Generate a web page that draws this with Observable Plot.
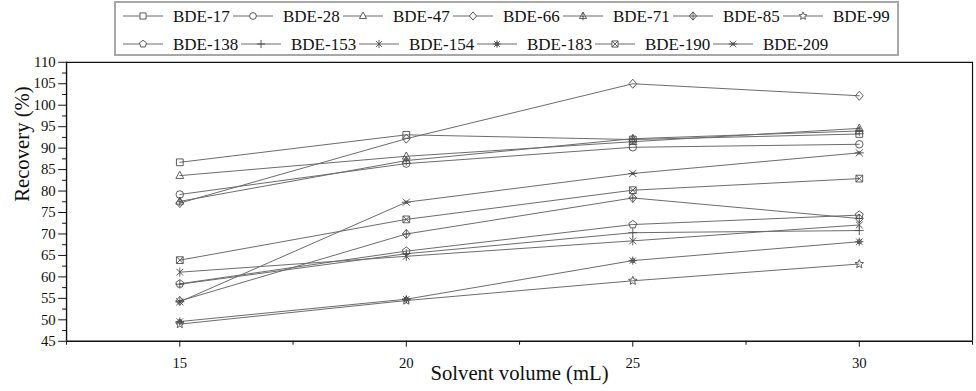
<!DOCTYPE html>
<html>
<head>
<meta charset="utf-8">
<script src="https://cdn.jsdelivr.net/npm/d3@7"></script>
<script src="https://cdn.jsdelivr.net/npm/@observablehq/plot@0.6"></script>
<style>
html, body { margin: 0; padding: 0; background: #fff; overflow: hidden; }
#wrap { width: 976px; height: 391px; overflow: hidden; position: relative; }
#wrap, #wrap svg, #wrap svg text { font-family: "Liberation Serif", "Times New Roman", Times, serif !important; }
svg { display: block; }
#legend { position: relative; z-index: 2; overflow: visible; }
</style>
</head>
<body>
<div id="wrap"></div>
<script>
// ---- data ----
const volumes = [15, 20, 25, 30];
const names = ["BDE-17","BDE-28","BDE-47","BDE-66","BDE-71","BDE-85","BDE-99",
               "BDE-138","BDE-153","BDE-154","BDE-183","BDE-190","BDE-209"];
const bde17  = [86.7, 93.1, 92.0, 93.3];
const bde28  = [79.2, 86.4, 90.2, 90.9];
const bde47  = [83.6, 88.1, 91.5, 94.6];
const bde66  = [77.2, 92.2, 105.0, 102.2];
const bde71  = [77.6, 87.1, 92.2, 94.0];
const bde85  = [54.4, 70.0, 78.4, 73.6];
const bde99  = [49.0, 54.5, 59.1, 63.0];
const bde138 = [58.4, 66.0, 72.2, 74.4];
const bde153 = [58.3, 65.4, 70.3, 70.8];
const bde154 = [61.1, 64.8, 68.4, 72.1];
const bde183 = [49.6, 54.8, 63.8, 68.2];
const bde190 = [63.9, 73.4, 80.2, 82.9];
const bde209 = [54.2, 77.4, 84.1, 88.9];
const seriesValues = [bde17, bde28, bde47, bde66, bde71, bde85, bde99,
                      bde138, bde153, bde154, bde183, bde190, bde209];
const yTicks = d3.range(45, 111, 5);
const yMinor = d3.range(47.5, 110, 5);
const xTicks = [15, 20, 25, 30];
const xMinor = [12.5, 17.5, 22.5, 27.5, 32.5];

// ---- symbols ----
const sym = fn => ({draw(c, size) { const r = Math.sqrt(size / Math.PI); fn(c, r); }});
const poly = (c, pts) => { c.moveTo(pts[0][0], pts[0][1]); for (let i = 1; i < pts.length; i++) c.lineTo(pts[i][0], pts[i][1]); c.closePath(); };
const seg = (c, x0, y0, x1, y1) => { c.moveTo(x0, y0); c.lineTo(x1, y1); };
const sqPts = r => { const s = r * 0.9; return [[-s,-s],[s,-s],[s,s],[-s,s]]; };
const triPts = r => [[0,-r*1.15],[r*1.05,r*0.75],[-r*1.05,r*0.75]];
const diaPts = r => [[0,-r*1.2],[r*1.05,0],[0,r*1.2],[-r*1.05,0]];
const symbols = [
  sym((c,r)=>poly(c, sqPts(r))),
  sym((c,r)=>{ c.moveTo(r,0); c.arc(0,0,r,0,2*Math.PI); }),
  sym((c,r)=>poly(c, triPts(r))),
  sym((c,r)=>poly(c, diaPts(r))),
  sym((c,r)=>{ poly(c, triPts(r)); seg(c,0,-r*1.15,0,r*1.3); seg(c,-r*0.5,r*0.1,r*0.5,r*0.1); }),
  sym((c,r)=>{ poly(c, diaPts(r)); seg(c,0,-r*1.2,0,r*1.2); seg(c,-r*1.05,0,r*1.05,0); }),
  sym((c,r)=>{ const R=r*1.2, ri=R*0.45; const pts=[]; for(let i=0;i<10;i++){const a=-Math.PI/2+i*Math.PI/5; const rr=i%2?ri:R; pts.push([rr*Math.cos(a), rr*Math.sin(a)]);} poly(c,pts); }),
  sym((c,r)=>{ const pts=[]; for(let i=0;i<5;i++){const a=-Math.PI/2+i*2*Math.PI/5; pts.push([r*1.1*Math.cos(a), r*1.1*Math.sin(a)]);} poly(c,pts); }),
  sym((c,r)=>{ seg(c,0,-r*1.2,0,r*1.2); seg(c,-r*1.2,0,r*1.2,0); }),
  sym((c,r)=>{ const k=r*0.9; seg(c,-k,-k,k,k); seg(c,-k,k,k,-k); seg(c,0,-r*1.2,0,r*1.2); }),
  sym((c,r)=>{ const k=r*0.85; seg(c,-k,-k,k,k); seg(c,-k,k,k,-k); seg(c,0,-r*1.1,0,r*1.1); seg(c,-r*1.1,0,r*1.1,0); c.moveTo(r*0.55,0); c.arc(0,0,r*0.55,0,2*Math.PI); }),
  sym((c,r)=>{ const s=r*0.9; poly(c, sqPts(r)); seg(c,-s,-s,s,s); seg(c,-s,s,s,-s); }),
  sym((c,r)=>{ const k=r*0.95; seg(c,-k,-k,k,k); seg(c,-k,k,k,-k); seg(c,-r*1.2,0,r*1.2,0); seg(c,-k*0.5,-k*0.3,k*0.5,-k*0.3); seg(c,-k*0.5,k*0.3,k*0.5,k*0.3); })
];

const FONT = "Liberation Serif";
const LINE = "#6a6a6a";
const MARK = "#4a4a4a";

// ---- legend ----
const wrap = d3.select("#wrap");
const leg = wrap.append("svg").attr("id", "legend").attr("width", 976).attr("height", 48);
leg.append("rect").attr("x", 115).attr("y", 2).attr("width", 783).attr("height", 53)
  .attr("fill", "none").attr("stroke", "#a8a8a8").attr("stroke-width", 2);
const rows = [{start: 123, pitch: 110, y: 16, idx: [0,1,2,3,4,5,6]},
              {start: 123, pitch: 118, y: 44, idx: [7,8,9,10,11,12]}];
rows.forEach(row => {
  row.idx.forEach((k, j) => {
    const x0 = row.start + j * row.pitch;
    const g = leg.append("g");
    g.append("line").attr("x1", x0).attr("x2", x0 + 40).attr("y1", row.y).attr("y2", row.y)
      .attr("stroke", LINE).attr("stroke-width", 1);
    g.append("path").attr("d", d3.symbol(symbols[k], 3.4 * 3.4 * Math.PI)())
      .attr("transform", `translate(${x0 + 20},${row.y})`)
      .attr("fill", "white").attr("stroke", MARK).attr("stroke-width", 0.9);
    g.append("text").attr("x", x0 + 50).attr("y", row.y).attr("dy", "0.35em")
      .attr("font-family", FONT).attr("font-size", 17).attr("fill", "#111").text(names[k]);
  });
});

// ---- chart ----
const table = names.flatMap((n, k) => volumes.map((v, i) => ({name: n, k, x: v, y: seriesValues[k][i]})));
const marks = [];
names.forEach((n, k) => {
  const d = table.filter(r => r.k === k);
  marks.push(Plot.line(d, {x: "x", y: "y", stroke: LINE, strokeWidth: 1}));
});
names.forEach((n, k) => {
  const d = table.filter(r => r.k === k);
  marks.push(Plot.dot(d, {x: "x", y: "y", symbol: symbols[k], r: 3.8, stroke: MARK, strokeWidth: 0.9, fill: "none"}));
});

const chart = Plot.plot({
  width: 990, height: 343,
  marginLeft: 67, marginRight: 4, marginTop: 14, marginBottom: 46,
  style: {fontFamily: FONT, color: "#111", background: "transparent", overflow: "visible"},
  x: {domain: [12.5, 32.5]},
  y: {domain: [45, 110]},
  marks: [
    ...marks,
    Plot.ruleY([110], {stroke: "#111", strokeWidth: 1.2}),
    Plot.ruleY([45], {stroke: "#111", strokeWidth: 1.4}),
    Plot.ruleX([12.5], {stroke: "#111", strokeWidth: 1.4}),
    Plot.ruleX([32.5], {stroke: "#111", strokeWidth: 1.2}),
    Plot.axisY({ticks: yTicks, tickSize: 8, tickPadding: 3, fontSize: 15, fontFamily: FONT, label: null, stroke: "#111"}),
    Plot.axisY({ticks: yMinor, tickSize: 4, text: null, label: null, stroke: "#111"}),
    Plot.axisX({ticks: xTicks, tickSize: 6, tickPadding: 10, fontSize: 15, fontFamily: FONT, label: null, stroke: "#111"}),
    Plot.axisX({ticks: xMinor, tickSize: 4, text: null, label: null, stroke: "#111"}),
    Plot.text(["Recovery (%)"], {frameAnchor: "left", dx: -45, rotate: -90, fontSize: 21, fontFamily: FONT, fill: "#111"}),
    Plot.text(["Solvent volume (mL)"], {frameAnchor: "bottom", dy: 39, fontSize: 21, fontFamily: FONT, fill: "#111"})
  ]
});
document.getElementById("wrap").appendChild(chart);
</script>
</body>
</html>
